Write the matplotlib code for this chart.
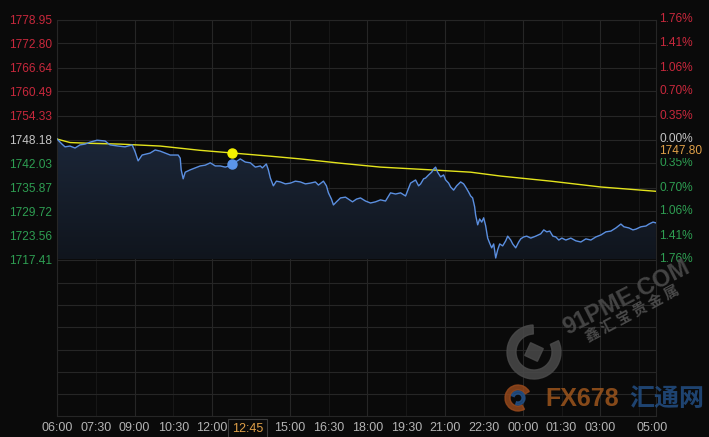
import matplotlib
matplotlib.use('Agg')
import matplotlib.pyplot as plt
import matplotlib.transforms as mtransforms
from matplotlib.patches import Wedge, Polygon
from matplotlib.colors import LinearSegmentedColormap
import numpy as np

plt.rcParams['font.family'] = ['Liberation Sans', 'Noto Sans CJK SC', 'DejaVu Sans']

# ---------------- data ----------------
prev_close = 1748.18
price_ticks = [1778.95, 1772.80, 1766.64, 1760.49, 1754.33, 1748.18,
               1742.03, 1735.87, 1729.72, 1723.56, 1717.41]
pct_labels = ['1.76%', '1.41%', '1.06%', '0.70%', '0.35%', '0.00%',
              '0.35%', '0.70%', '1.06%', '1.41%', '1.76%']
time_labels = ['06:00', '07:30', '09:00', '10:30', '12:00', '15:00', '16:30',
               '18:00', '19:30', '21:00', '22:30', '00:00', '01:30', '03:00', '05:00']
time_minutes = [0, 90, 180, 270, 360, 540, 630, 720, 810, 900, 990, 1080, 1170, 1260, 1380]
cursor_label = '12:45'
cursor_minute = 405
last_price_label = '1747.80'
session_end = 1389

# minutes after 06:00 and price
t_price = [0, 11.6, 18.6, 30.2, 41.8, 53.4, 65.0, 76.6, 92.9, 111.5, 123.1, 141.7, 157.9,
           174.2, 181.2, 188.1, 197.4, 216.0, 227.6, 239.2, 250.8, 262.5, 281.0, 285.7,
           288.0, 292.6, 297.3, 308.9, 320.5, 332.1, 343.7, 355.4, 367.0, 378.6, 390.2,
           399.5, 408.8, 418.1, 425.0, 436.6, 448.3, 459.9, 471.5, 476.1, 485.4, 490.1,
           494.7, 501.7, 508.7, 518.0, 529.5, 541.2, 552.8, 564.4, 576.0, 587.6, 599.2,
           606.2, 617.8, 624.8, 629.4, 636.4, 641.0, 648.0, 657.3, 668.9, 685.2, 694.5,
           703.7, 715.4, 727.0, 738.6, 750.2, 761.8, 773.4, 785.1, 796.7, 808.3, 815.3,
           819.9, 826.9, 831.5, 838.5, 843.2, 850.1, 854.7, 861.7, 868.7, 873.3, 877.9,
           882.6, 889.6, 896.5, 901.2, 908.1, 912.8, 919.7, 926.7, 936.0, 942.9, 947.6,
           954.5, 959.2, 963.8, 968.5, 970.8, 975.5, 980.1, 984.8, 989.4, 994.1, 998.7,
           1003.3, 1008.0, 1012.6, 1017.3, 1021.9, 1026.6, 1033.5, 1040.5, 1045.1, 1052.1,
           1056.7, 1063.7, 1070.7, 1075.3, 1082.3, 1089.3, 1098.6, 1110.2, 1121.8, 1128.8,
           1135.7, 1142.7, 1149.7, 1156.6, 1163.6, 1170.6, 1179.9, 1191.5, 1203.1, 1214.7,
           1226.3, 1237.9, 1249.6, 1261.2, 1272.8, 1284.4, 1296.0, 1307.6, 1314.6, 1326.2,
           1335.5, 1342.5, 1354.1, 1365.7, 1372.7, 1382.0, 1388.9]
price = [1748.3, 1747.0, 1746.3, 1746.5, 1746.0, 1746.8, 1747.0, 1747.5, 1748.0, 1747.8,
         1746.8, 1746.5, 1746.3, 1746.8, 1745.0, 1742.7, 1744.2, 1744.7, 1745.5, 1745.2,
         1744.7, 1744.2, 1744.2, 1743.4, 1740.4, 1738.1, 1739.8, 1740.4, 1740.9, 1741.4,
         1741.6, 1742.2, 1741.4, 1741.4, 1741.1, 1741.4, 1742.2, 1742.7, 1743.2, 1742.4,
         1742.2, 1741.1, 1741.4, 1740.9, 1741.9, 1740.4, 1738.3, 1736.3, 1737.5, 1737.3,
         1736.8, 1737.0, 1737.5, 1737.3, 1736.8, 1737.0, 1737.3, 1736.5, 1737.5, 1736.3,
         1734.5, 1732.9, 1731.4, 1732.2, 1733.2, 1733.4, 1732.2, 1732.9, 1733.2, 1732.4,
         1731.9, 1732.2, 1732.7, 1732.4, 1734.5, 1734.2, 1734.5, 1733.7, 1735.7, 1737.0,
         1737.5, 1737.8, 1736.3, 1736.8, 1738.1, 1738.3, 1739.1, 1739.8, 1740.6, 1741.1,
         1739.8, 1738.6, 1739.1, 1737.8, 1737.0, 1736.0, 1735.2, 1736.3, 1737.3, 1736.8,
         1736.0, 1734.7, 1733.7, 1733.2, 1730.9, 1728.8, 1726.3, 1727.8, 1727.0, 1728.1,
         1726.0, 1722.9, 1721.6, 1720.4, 1721.4, 1717.8, 1719.9, 1721.4, 1720.9, 1722.2,
         1723.4, 1722.4, 1721.4, 1720.4, 1721.9, 1722.7, 1723.2, 1723.4, 1722.9, 1723.4,
         1724.0, 1725.0, 1724.5, 1724.7, 1723.4, 1723.2, 1722.4, 1722.9, 1722.4, 1722.9,
         1722.2, 1721.9, 1722.7, 1722.4, 1723.2, 1723.7, 1724.5, 1724.7, 1725.5, 1726.5,
         1725.8, 1725.5, 1725.0, 1725.2, 1725.8, 1726.0, 1726.5, 1727.0, 1726.8]

t_avg = [0, 30.2, 76.6, 146.3, 239.2, 332.1, 408.8, 494.7, 564.4, 657.3, 750.2, 866.3,
         959.2, 1028.9, 1145.0, 1261.2, 1354.1, 1388.9]
avg_price = [1748.3, 1747.4, 1747.2, 1747.0, 1746.5, 1745.4, 1744.7, 1743.9, 1743.2,
             1742.1, 1741.1, 1740.4, 1739.8, 1738.8, 1737.5, 1736.0, 1735.2, 1734.9]

# ---------------- style ----------------
BG = '#0a0a0a'
GRID = '#262626'
GRID_MINOR = '#171717'
RED = '#c8283c'
GREEN = '#2e9e52'
NEUTRAL = '#c4c4c4'
BLUE = '#5b8fe0'
YELLOW = '#e4e41c'
ORANGE = '#e0a048'
W, H = 709, 437

fig = plt.figure(figsize=(W / 100, H / 100), dpi=100, facecolor=BG)

left_px, right_px = 57, 656
top_px, mid_px, low_top_px, bottom_px = 19.5, 259.5, 283, 416
px_per_price = (mid_px - top_px) / (price_ticks[0] - price_ticks[-1])
ymin_ext = price_ticks[-1] - (low_top_px - mid_px) / px_per_price

ax = fig.add_axes([left_px / W, 1 - low_top_px / H, (right_px - left_px) / W,
                   (low_top_px - top_px) / H])
ax2 = fig.add_axes([left_px / W, 1 - bottom_px / H, (right_px - left_px) / W,
                    (bottom_px - low_top_px) / H])

for a in (ax, ax2):
    a.set_facecolor(BG)
    a.set_xlim(0, session_end)
    for s in a.spines.values():
        s.set_color(GRID)
        s.set_linewidth(0.8)
    for m in range(0, session_end, 90):
        a.axvline(m, color=GRID if m % 180 == 0 else GRID_MINOR, lw=0.8, zorder=0)

ax.spines['bottom'].set_visible(False)
ax.set_ylim(ymin_ext, price_ticks[0])
for v in price_ticks:
    ax.axhline(v, color=GRID, lw=0.8, zorder=0)

# gradient fill under price
poly = ax.fill_between(t_price, price, price_ticks[-1], color='none', lw=0)
cmap = LinearSegmentedColormap.from_list('f', ['#10151d', '#1b2638'])
grad = np.linspace(0, 1, 256).reshape(-1, 1)
im = ax.imshow(grad, aspect='auto', cmap=cmap, origin='lower',
               extent=[0, session_end, price_ticks[-1], max(price)], zorder=1)
im.set_clip_path(poly.get_paths()[0], transform=ax.transData)

ax.plot(t_avg, avg_price, color=YELLOW, lw=1.0, zorder=3)
ax.plot(t_price, price, color=BLUE, lw=1.0, zorder=4)
ax.plot([cursor_minute], [np.interp(cursor_minute, t_avg, avg_price)], 'o',
        color='#f4f000', ms=6.5, zorder=5)
ax.plot([cursor_minute], [np.interp(cursor_minute, t_price, price)], 'o',
        color='#5b95ea', ms=6.5, zorder=5)

# left tick labels
ax.set_yticks(price_ticks)
ax.set_yticklabels([f'{v:.2f}' for v in price_ticks])
ax.tick_params(axis='y', length=0, pad=3.5, labelsize=8.6)
ax.set_xticks([])
for lbl, v in zip(ax.get_yticklabels(), price_ticks):
    lbl.set_color(RED if v > prev_close + 0.01 else (GREEN if v < prev_close - 0.01 else NEUTRAL))

# right labels
ytr = ax.get_yaxis_transform()
for v, s in zip(price_ticks, pct_labels):
    c = RED if v > prev_close + 0.01 else (GREEN if v < prev_close - 0.01 else NEUTRAL)
    ax.text((659 - left_px) / (right_px - left_px), v, s, transform=ytr, ha='left',
            va='center', color=c, fontsize=8.6, clip_on=False)
off = mtransforms.offset_copy(ytr, fig=fig, x=0, y=-12, units='dots')
ax.text((659 - left_px) / (right_px - left_px), prev_close, last_price_label,
        transform=off, ha='left', va='center', color=ORANGE, fontsize=8.6, clip_on=False,
        bbox=dict(facecolor=BG, edgecolor='none', pad=0.6))

# lower panel
ax2.set_ylim(0, 6)
for k in range(1, 6):
    ax2.axhline(k, color=GRID, lw=0.8, zorder=0)
ax2.set_yticks([])
ax2.set_xticks(time_minutes)
ax2.set_xticklabels(time_labels)
ax2.tick_params(axis='x', length=0, pad=4, labelsize=9, labelcolor='#b4b4b4')
ax2.text(cursor_minute, -0.05, cursor_label, transform=ax2.get_xaxis_transform(),
         ha='left', va='top', color=ORANGE, fontsize=9,
         bbox=dict(facecolor=BG, edgecolor='#3c3c3c', boxstyle='square,pad=0.3', lw=0.8))

# ---------------- watermarks ----------------
ov = fig.add_axes([0, 0, 1, 1], zorder=10)
ov.set_xlim(0, W)
ov.set_ylim(H, 0)
ov.axis('off')
ov.patch.set_visible(False)
WM = '#4a4a4a'
ov.add_patch(Wedge((534, 352), 27, -25, 268, width=9, color=WM, alpha=0.85))
ang = np.deg2rad(25)
sq = np.array([[-7, -7], [7, -7], [7, 7], [-7, 7]])
rot = np.array([[np.cos(ang), -np.sin(ang)], [np.sin(ang), np.cos(ang)]])
ov.add_patch(Polygon(sq @ rot.T + [534, 352], closed=True, color=WM, alpha=0.85))
ov.text(626, 298, '91PME.COM', rotation=27, ha='center', va='center', color=WM,
        fontsize=17, fontweight='bold', alpha=0.9)
ov.text(632, 313, '鑫 汇 宝 贵 金 属', rotation=28, ha='center', va='center', color=WM,
        fontsize=10.5, fontweight='bold', family=['Noto Sans CJK SC', 'DejaVu Sans'])
ov.add_patch(Wedge((518, 398), 13, 60, 330, width=5, color='#9a4a1c', alpha=0.8))
ov.add_patch(Wedge((518, 398), 7, 200, 470, width=3, color='#24528a', alpha=0.8))
ov.text(582, 399, 'FX678', ha='center', va='center', color='#a65a1e', fontsize=18,
        fontweight='bold', alpha=0.8)
ov.text(667, 399, '汇通网', ha='center', va='center', color='#24528a', fontsize=18,
        fontweight='bold', family=['Noto Sans CJK SC', 'DejaVu Sans'], alpha=0.8)

fig.savefig('out.png', dpi=100, facecolor=BG)
